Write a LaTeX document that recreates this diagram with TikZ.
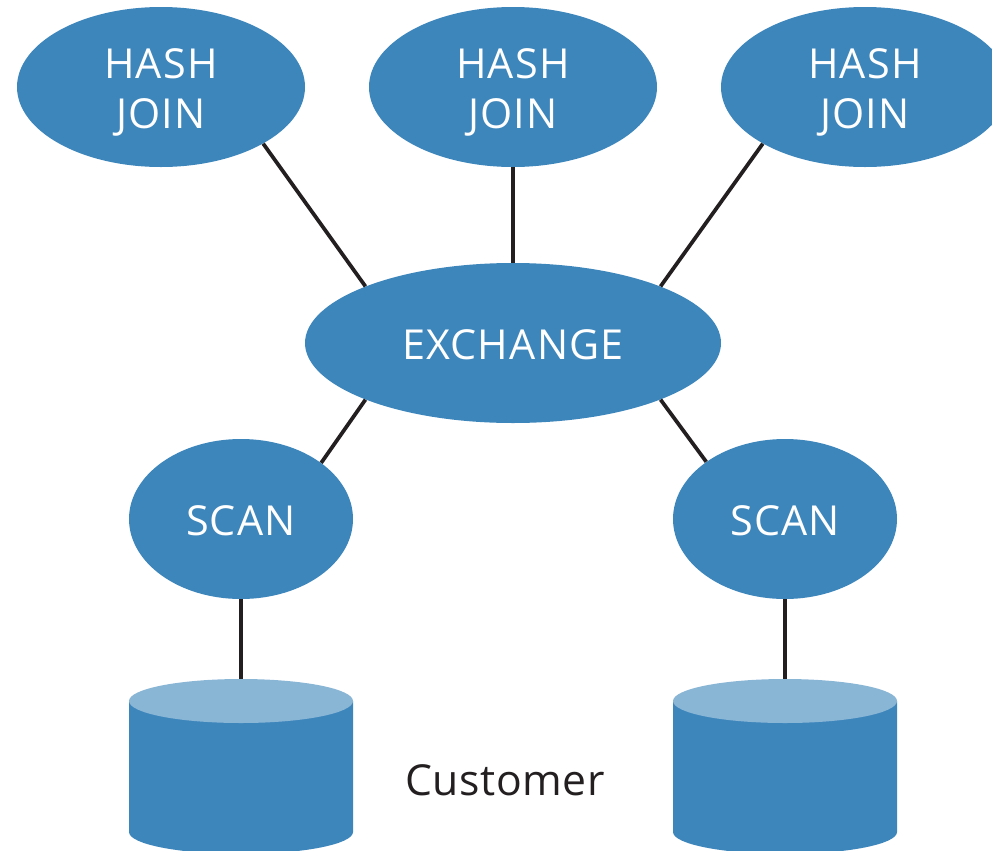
\documentclass[tikz,border=0pt]{standalone}
\usepackage{fontspec}
\setmainfont[LetterSpace=1.5]{Open Sans}
\newfontfamily\capsfont[LetterSpace=3]{Open Sans}
\usetikzlibrary{shapes.geometric}
\definecolor{nodeblue}{HTML}{3D86BC}
\definecolor{lidblue}{HTML}{8AB6D6}
\definecolor{linek}{HTML}{231F20}
\newcommand{\toppad}{\rule{0pt}{30.5pt}}
\newcommand{\onepad}{\rule{0pt}{25pt}}
\tikzset{x=0.75pt,y=-0.75pt,
 opnode/.style={ellipse,fill=nodeblue,text=white,inner sep=0pt,align=center,font=\capsfont\fontsize{31}{37.5}\selectfont},
 link/.style={draw=linek,line width=2.8pt},
 lbl/.style={text=linek,font=\fontsize{32}{37}\selectfont}}
\begin{document}
\begin{tikzpicture}
\useasboundingbox (0,0) rectangle (992,850);
\coordinate (c1top) at (241,680);
\coordinate (c2top) at (785,680);
\node[opnode,minimum width=216pt,minimum height=120pt] (h1) at (161,87) {\toppad HASH\\JOIN};
\node[opnode,minimum width=216pt,minimum height=120pt] (h2) at (513,87) {\toppad HASH\\JOIN};
\node[opnode,minimum width=216pt,minimum height=120pt] (h3) at (865,87) {\toppad HASH\\JOIN};
\node[opnode,minimum width=312pt,minimum height=120pt] (ex) at (513,343) {\onepad EXCHANGE};
\node[opnode,minimum width=168pt,minimum height=120pt] (s1) at (241,519) {\onepad SCAN};
\node[opnode,minimum width=168pt,minimum height=120pt] (s2) at (785,519) {\onepad SCAN};
\draw[link] (h1.-29.5) -- (ex.159);
\draw[link] (h2) -- (ex);
\draw[link] (h3.-151.2) -- (ex.21);
\draw[link] (ex.201) -- (s1.35.7);
\draw[link] (ex.-21) -- (s2.144.7);
\draw[link] (s1) -- (c1top);
\draw[link] (s2) -- (c2top);
% cylinders
\fill[nodeblue] (129,701) -- (129,832) arc[start angle=180,end angle=360,x radius=112,y radius=-22] -- (353,701) -- cycle;
\fill[lidblue] (241,701) ellipse[x radius=112,y radius=22];
\fill[nodeblue] (673,701) -- (673,832) arc[start angle=180,end angle=360,x radius=112,y radius=-22] -- (897,701) -- cycle;
\fill[lidblue] (785,701) ellipse[x radius=112,y radius=22];
\node[lbl] (cust) at (505,780) {Customer};
\end{tikzpicture}
\end{document}
